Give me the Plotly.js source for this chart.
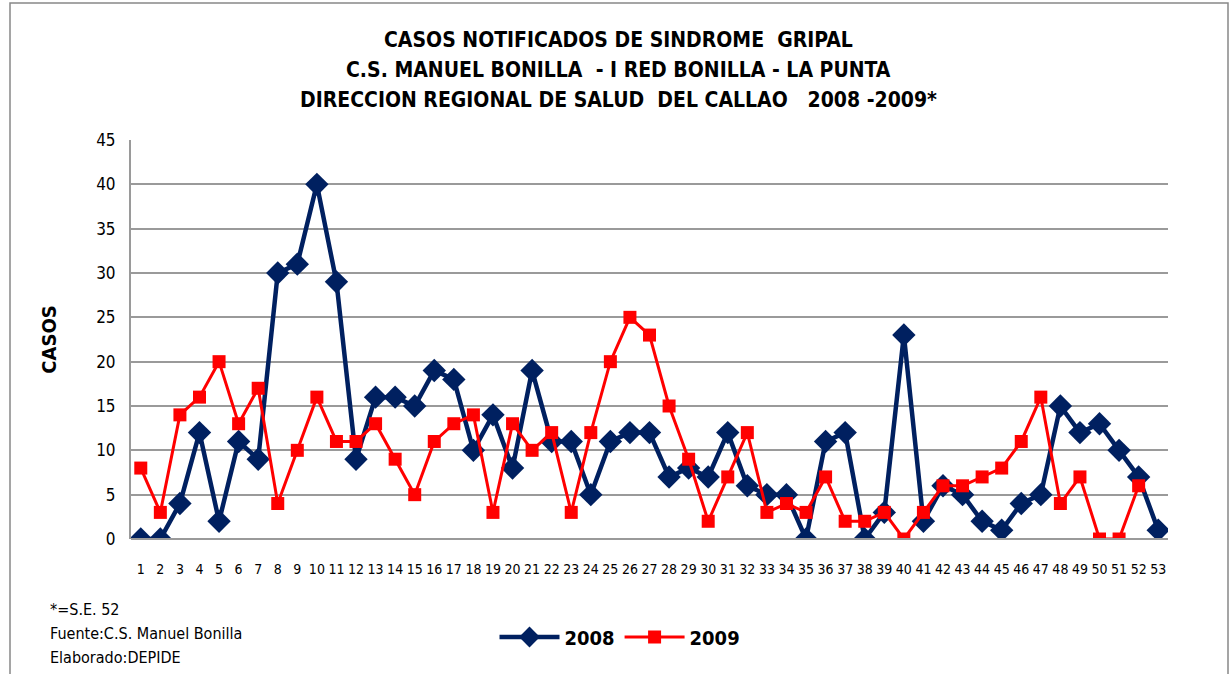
<!DOCTYPE html>
<html>
<head>
<meta charset="utf-8">
<script src="https://cdn.plot.ly/plotly-3.0.1.min.js"></script>
<style>
html,body{margin:0;padding:0;background:#fff;}
#chart{width:1231px;height:674px;}
</style>
</head>
<body>
<div id="chart"></div>
<script>
var weeks2008 = [1,2,3,4,5,6,7,8,9,10,11,12,13,14,15,16,17,18,19,20,21,22,23,24,25,26,27,28,29,30,31,32,33,34,35,36,37,38,39,40,41,42,43,44,45,46,47,48,49,50,51,52,53];
var cases2008 = [0,0,4,12,2,11,9,30,31,40,29,9,16,16,15,19,18,10,14,8,19,11,11,5,11,12,12,7,8,7,12,6,5,5,0,11,12,0,3,23,2,6,5,2,1,4,5,15,12,13,10,7,1];
var weeks2009 = [1,2,3,4,5,6,7,8,9,10,11,12,13,14,15,16,17,18,19,20,21,22,23,24,25,26,27,28,29,30,31,32,33,34,35,36,37,38,39,40,41,42,43,44,45,46,47,48,49,50,51,52];
var cases2009 = [8,3,14,16,20,13,17,4,10,16,11,11,13,9,5,11,13,14,3,13,10,12,3,12,20,25,23,15,9,2,7,12,3,4,3,7,2,2,3,0,3,6,6,7,8,11,16,4,7,0,0,6];
var yTicks = [0,5,10,15,20,25,30,35,40,45];
var titleLines = ["CASOS NOTIFICADOS DE SINDROME  GRIPAL","C.S. MANUEL BONILLA  - I RED BONILLA - LA PUNTA","DIRECCION REGIONAL DE SALUD  DEL CALLAO   2008 -2009*"];
var footLines = ["*=S.E. 52","Fuente:C.S. Manuel Bonilla","Elaborado:DEPIDE"];

var FONT = '"Liberation Sans Narrow", "DejaVu Sans Condensed", Arial, sans-serif';

var traces = [
  {x: weeks2008, y: cases2008, name: '2008', type: 'scatter', mode: 'lines+markers',
   line: {color: '#002060', width: 4.5}, marker: {symbol: 'diamond', size: 18, color: '#002060'}},
  {x: weeks2009, y: cases2009, name: '2009', type: 'scatter', mode: 'lines+markers',
   line: {color: '#ff0000', width: 3}, marker: {symbol: 'square', size: 13, color: '#ff0000'}}
];

var annotations = [];
titleLines.forEach(function(t, i){
  annotations.push({text: '<b>' + t + '</b>', xref: 'paper', yref: 'paper', x: (618 - 131) / 1037, y: (539 - (40 + 30*i)) / 399,
          showarrow: false, xanchor: 'center', yanchor: 'middle', font: {family: FONT, size: 21, color: '#000'}});
});
footLines.forEach(function(t, i){
  annotations.push({text: t, xref: 'paper', yref: 'paper', x: (48 - 131) / 1037, y: (539 - (609 + 24*i)) / 399,
    showarrow: false, xanchor: 'left', yanchor: 'middle', font: {family: FONT, size: 16, color: '#000'}});
});

var layout = {
  width: 1231, height: 674,
  margin: {l: 131, r: 63, t: 140, b: 135},
  paper_bgcolor: '#fff', plot_bgcolor: '#fff',
  showlegend: true,
  legend: {orientation: 'h', x: (620 - 131) / 1037, xanchor: 'center', y: (539 - 637) / 399, yanchor: 'middle',
           font: {family: FONT, size: 20, color: '#000', weight: 'bold'}, itemwidth: 60},
  xaxis: {type: 'linear', range: [0.5, 53.5], tickmode: 'array', tickvals: weeks2008, ticktext: weeks2008.map(String),
          showgrid: false, zeroline: false, showline: false, ticks: '',
          tickfont: {family: FONT, size: 14, color: '#000'}, tickangle: 0, ticklabelstandoff: 20},
  yaxis: {range: [0, 45], tickmode: 'array', tickvals: yTicks, showgrid: true, gridcolor: '#9a9a9a', gridwidth: 2,
          zeroline: false, showline: true, linecolor: '#9a9a9a', linewidth: 2, ticks: '',
          tickfont: {family: FONT, size: 17, color: '#000'}, ticklabelstandoff: 10,
          title: {text: '<b>CASOS</b>', font: {family: FONT, size: 20, color: '#000'}, standoff: 34}},
  annotations: annotations,
  shapes: [
    {type: 'line', xref: 'paper', yref: 'paper', x0: 0, x1: 1, y0: 0, y1: 0, line: {color: '#9a9a9a', width: 2}},
    {type: 'rect', xref: 'paper', yref: 'paper', x0: (10 - 131) / 1037, x1: (1228 - 131) / 1037,
     y0: (539 - 690) / 399, y1: (539 - 3) / 399, line: {color: '#888', width: 1.5}, fillcolor: 'rgba(0,0,0,0)'}
  ]
};

Plotly.newPlot('chart', traces, layout, {displayModeBar: false, staticPlot: true});
</script>
</body>
</html>
